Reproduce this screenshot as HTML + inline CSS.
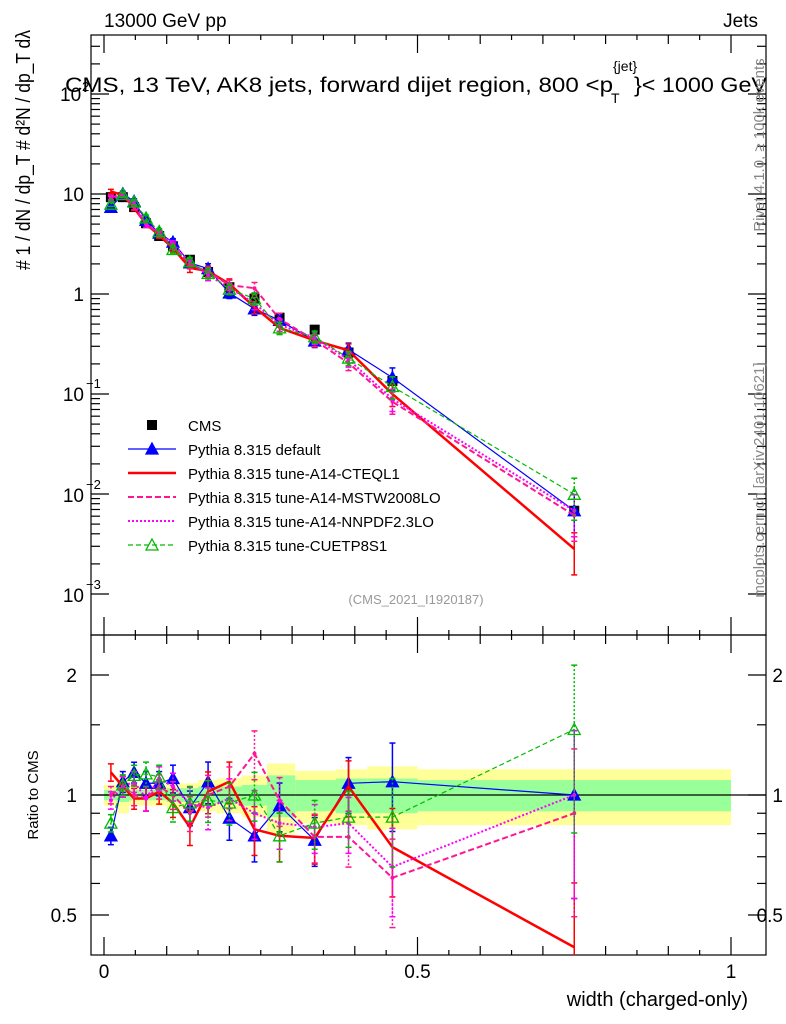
<!DOCTYPE html>
<html><head><meta charset="utf-8"><style>
body{margin:0;background:#fff}
svg{display:block;font-family:"Liberation Sans",sans-serif}
</style></head><body>
<svg id="c" width="786" height="1024" viewBox="0 0 786 1024">
<defs><clipPath id="cm"><rect x="91" y="35" width="675" height="600"/></clipPath><clipPath id="cr"><rect x="91" y="635" width="675" height="320"/></clipPath></defs>
</svg>
<script>
const xs=[0.011,0.03,0.048,0.067,0.088,0.11,0.137,0.166,0.2,0.24,0.28,0.336,0.39,0.46,0.75];
const cms=[9.3,9.3,7.4,5.1,3.8,3.0,2.2,1.66,1.17,0.9,0.58,0.44,0.26,0.135,0.0068];
const rDefault=[0.79,1.08,1.14,1.07,1.07,1.10,0.93,1.08,0.875,0.79,0.94,0.77,1.07,1.08,1.0];
const rCTEQ=[1.14,1.05,0.98,0.98,1.02,0.955,0.83,1.02,1.08,0.82,0.79,0.78,1.05,0.74,0.415];
const rMSTW=[1.0,1.05,1.0,0.98,1.05,1.0,0.9,1.0,1.05,1.27,0.97,0.785,0.785,0.62,0.9];
const rNNPDF=[0.97,1.05,1.08,0.98,1.1,1.05,0.95,0.93,0.98,0.9,0.85,0.83,0.85,0.66,1.0];
const rCUET=[0.85,1.06,1.12,1.13,1.11,0.93,0.955,0.97,0.955,1.0,0.79,0.85,0.88,0.88,1.46];
const edges=[0,0.02,0.04,0.057,0.077,0.1,0.12,0.15,0.18,0.22,0.26,0.305,0.37,0.42,0.5,1.0];
const bandTot=[0.06,0.1,0.06,0.06,0.06,0.08,0.07,0.09,0.1,0.12,0.2,0.15,0.16,0.18,0.16];
const bandStat=[0.03,0.04,0.03,0.03,0.03,0.04,0.04,0.05,0.05,0.06,0.12,0.09,0.1,0.1,0.09];
const relErr=[0.05,0.06,0.06,0.07,0.07,0.08,0.1,0.12,0.12,0.14,0.14,0.14,0.16,0.25,0.45];

const NS="http://www.w3.org/2000/svg",S=document.getElementById('c');
function el(t,a,p){const e=document.createElementNS(NS,t);for(const k in a)e.setAttribute(k,a[k]);(p||S).appendChild(e);return e;}
const X=v=>104+627*v;
const YM=v=>294-100*Math.log10(v);
const YR=r=>795-120*Math.log2(r);
const L=91,R=766,T=35,M=635,B=955;

const gB=el('g',{});
edges.slice(0,-1).forEach((e0,i)=>{const x0=X(e0),x1=X(edges[i+1]);
 el('rect',{x:x0,y:YR(1+bandTot[i]),width:x1-x0,height:YR(1-bandTot[i])-YR(1+bandTot[i]),fill:'#ffff99'},gB);});
edges.slice(0,-1).forEach((e0,i)=>{const x0=X(e0),x1=X(edges[i+1]);
 el('rect',{x:x0,y:YR(1+bandStat[i]),width:x1-x0,height:YR(1-bandStat[i])-YR(1+bandStat[i]),fill:'#99ff99'},gB);});
el('line',{x1:L,x2:R,y1:YR(1),y2:YR(1),stroke:'#000','stroke-width':1.2});

const fr=el('g',{fill:'none',stroke:'#000','stroke-width':1.2});

el('rect',{x:L,y:T,width:R-L,height:M-T},fr);el('rect',{x:L,y:M,width:R-L,height:B-M},fr);
for(let d=-3;d<=2;d++){for(let m=1;m<10;m++){const v=m*Math.pow(10,d);const y=YM(v);if(y<T||y>M)continue;const len=m==1?18:9;
 el('line',{x1:L,x2:L+len,y1:y,y2:y},fr);el('line',{x1:R,x2:R-len,y1:y,y2:y},fr);}}
for(let i=0;i<=20;i++){const v=i*0.05,x=X(v);if(x>R)continue;const len=i%10==0?18:(i%2==0?9:5);
 [[M,-1],[T,1],[B,-1],[M,1]].forEach(([y,s])=>el('line',{x1:x,x2:x,y1:y,y2:y+s*len},fr));}
[0.5,0.6,0.7,0.8,0.9,1,1.5,2].forEach(r=>{const y=YR(r);const len=(r==0.5||r==1||r==2)?18:9;
 el('line',{x1:L,x2:L+len,y1:y,y2:y},fr);el('line',{x1:R,x2:R-len,y1:y,y2:y},fr);});

function txt(s,a,name){const t=el('text',a);t.textContent=s;return t;}
[['10',194],['1',294],['10',394],['10',495],['10',595]].forEach(([s,y])=>txt(s,{x:84,y:y+7,'font-size':19,'text-anchor':'end'},'y-tick-label'));
txt('−1',{x:86,y:388,'font-size':13},'y-tick-exp');txt('−2',{x:86,y:489,'font-size':13},'y-tick-exp');txt('−3',{x:86,y:589,'font-size':13},'y-tick-exp');
txt('10',{x:60,y:101,'font-size':19},'y-tick-label');txt('2',{x:82,y:91,'font-size':13},'y-tick-exp');
[['2',675],['1',795],['0.5',915]].forEach(([s,y])=>{txt(s,{x:77,y:y+7,'font-size':19,'text-anchor':'end'},'ratio-tick-label');txt(s,{x:783,y:y+7,'font-size':19,'text-anchor':'end'},'ratio-tick-label-right');});
[['0',0],['0.5',0.5],['1',1]].forEach(([s,v])=>txt(s,{x:X(v),y:978,'font-size':19,'text-anchor':'middle'},'x-tick-label'));
txt('width (charged-only)',{x:748,y:1006,'font-size':20,'text-anchor':'end'},'x-axis-title');
txt('Ratio to CMS',{x:0,y:0,'font-size':15,'text-anchor':'middle',transform:'translate(38,795) rotate(-90)'},'ratio-axis-title');
txt('13000 GeV pp',{x:104,y:27,'font-size':19},'energy-label');
txt('Jets',{x:758,y:27,'font-size':19,'text-anchor':'end'},'process-label');
txt('CMS, 13 TeV, AK8 jets, forward dijet region, 800 <p',{x:65,y:92,'font-size':21,textLength:548,lengthAdjust:'spacingAndGlyphs'},'plot-title');
txt('T',{x:611,y:103,'font-size':14},'title-sub');txt('{jet}',{x:613,y:71,'font-size':14},'title-sup');
txt('}< 1000 GeV',{x:634,y:92,'font-size':21,textLength:133,lengthAdjust:'spacingAndGlyphs'},'plot-title-end');
txt('# 1 / dN / dp_T  # d²N / dp_T dλ',{x:0,y:0,'font-size':20,'text-anchor':'middle',textLength:240,lengthAdjust:'spacingAndGlyphs',transform:'translate(30,150) rotate(-90)'},'y-axis-title');
txt('Rivet 4.1.0, ≥ 100k events',{x:0,y:0,'font-size':15,'fill':'#888','text-anchor':'middle',transform:'translate(764,145) rotate(-90)'},'rivet-label');
txt('mcplots.cern.ch [arXiv:2401.10621]',{x:0,y:0,'font-size':15,'fill':'#888','text-anchor':'middle',transform:'translate(764,480) rotate(-90)'},'mcplots-label');
txt('(CMS_2021_I1920187)',{x:416,y:604,'font-size':13,'fill':'#999','text-anchor':'middle'},'analysis-id');

const series=[
 {n:'default',r:rDefault,c:'#0000ff',w:1.2,d:'',m:'tri'},
 {n:'cteql1',r:rCTEQ,c:'#ff0000',w:2.5,d:'',m:'none'},
 {n:'mstw',r:rMSTW,c:'#ff1493',w:2,d:'6,3',m:'dot'},
 {n:'nnpdf',r:rNNPDF,c:'#ff00ff',w:2,d:'2,2',m:'dot'},
 {n:'cuetp8s1',r:rCUET,c:'#00bb00',w:1.2,d:'5,3',m:'otri'}];
function tri(g,x,y,c,fill){el('path',{d:`M${x},${y-6}L${x+6},${y+5}L${x-6},${y+5}Z`,fill:fill?c:'none',stroke:c,'stroke-width':1.3},g);}
const gC=el('g',{});
xs.forEach((x,i)=>{el('rect',{x:X(x)-5,y:YM(cms[i])-5,width:10,height:10,fill:'#000'},gC);});
series.forEach(s=>{
 [['main',v=>YM(v),i=>cms[i]*s.r[i],'url(#cm)'],['ratio',v=>YR(v),i=>s.r[i],'url(#cr)']].forEach(([p,Y,val,clip])=>{
  const g=el('g',{'clip-path':clip});
  const pts=xs.map((x,i)=>X(x)+','+Y(val(i))).join(' ');
  el('polyline',{points:pts,fill:'none',stroke:s.c,'stroke-width':s.w,'stroke-dasharray':s.d},g);
  xs.forEach((x,i)=>{const v=val(i),e=relErr[i];const y1=Y(v*(1+e)),y2=Y(Math.max(v*(1-e),1e-4));
   el('line',{x1:X(x),x2:X(x),y1:y1,y2:y2,stroke:s.c,'stroke-width':1.5,'stroke-dasharray':s.d?'2,2':''},g);
   el('line',{x1:X(x)-3,x2:X(x)+3,y1:y1,y2:y1,stroke:s.c,'stroke-width':1.5},g);
   el('line',{x1:X(x)-3,x2:X(x)+3,y1:y2,y2:y2,stroke:s.c,'stroke-width':1.5},g);
   const yy=Y(v);
   if(s.m=='tri')tri(g,X(x),yy,s.c,true);else if(s.m=='otri')tri(g,X(x),yy,s.c,false);else if(s.m=='dot')el('circle',{cx:X(x),cy:yy,r:2,fill:s.c},g);});
 });
});

const lg=el('g',{});
const ents=[['CMS','#000','','sq',1],['Pythia 8.315 default','#0000ff','','tri',1.2],['Pythia 8.315 tune-A14-CTEQL1','#ff0000','','none',2.5],
 ['Pythia 8.315 tune-A14-MSTW2008LO','#ff1493','6,3','none',2],['Pythia 8.315 tune-A14-NNPDF2.3LO','#ff00ff','2,2','none',2],['Pythia 8.315 tune-CUETP8S1','#00bb00','5,3','otri',1.2]];
ents.forEach(([t,c,d,m,w],i)=>{const y=425+i*24;const g=el('g',{},lg);
 if(m=='sq')el('rect',{x:147,y:y-5,width:10,height:10,fill:'#000'},g);
 else el('line',{x1:128,x2:176,y1:y,y2:y,stroke:c,'stroke-width':w,'stroke-dasharray':d},g);
 if(m=='tri')tri(g,152,y,c,true);if(m=='otri')tri(g,152,y,c,false);
 const tt=el('text',{x:188,y:y+6,'font-size':15},g);tt.textContent=t;});
</script>
</body></html>
